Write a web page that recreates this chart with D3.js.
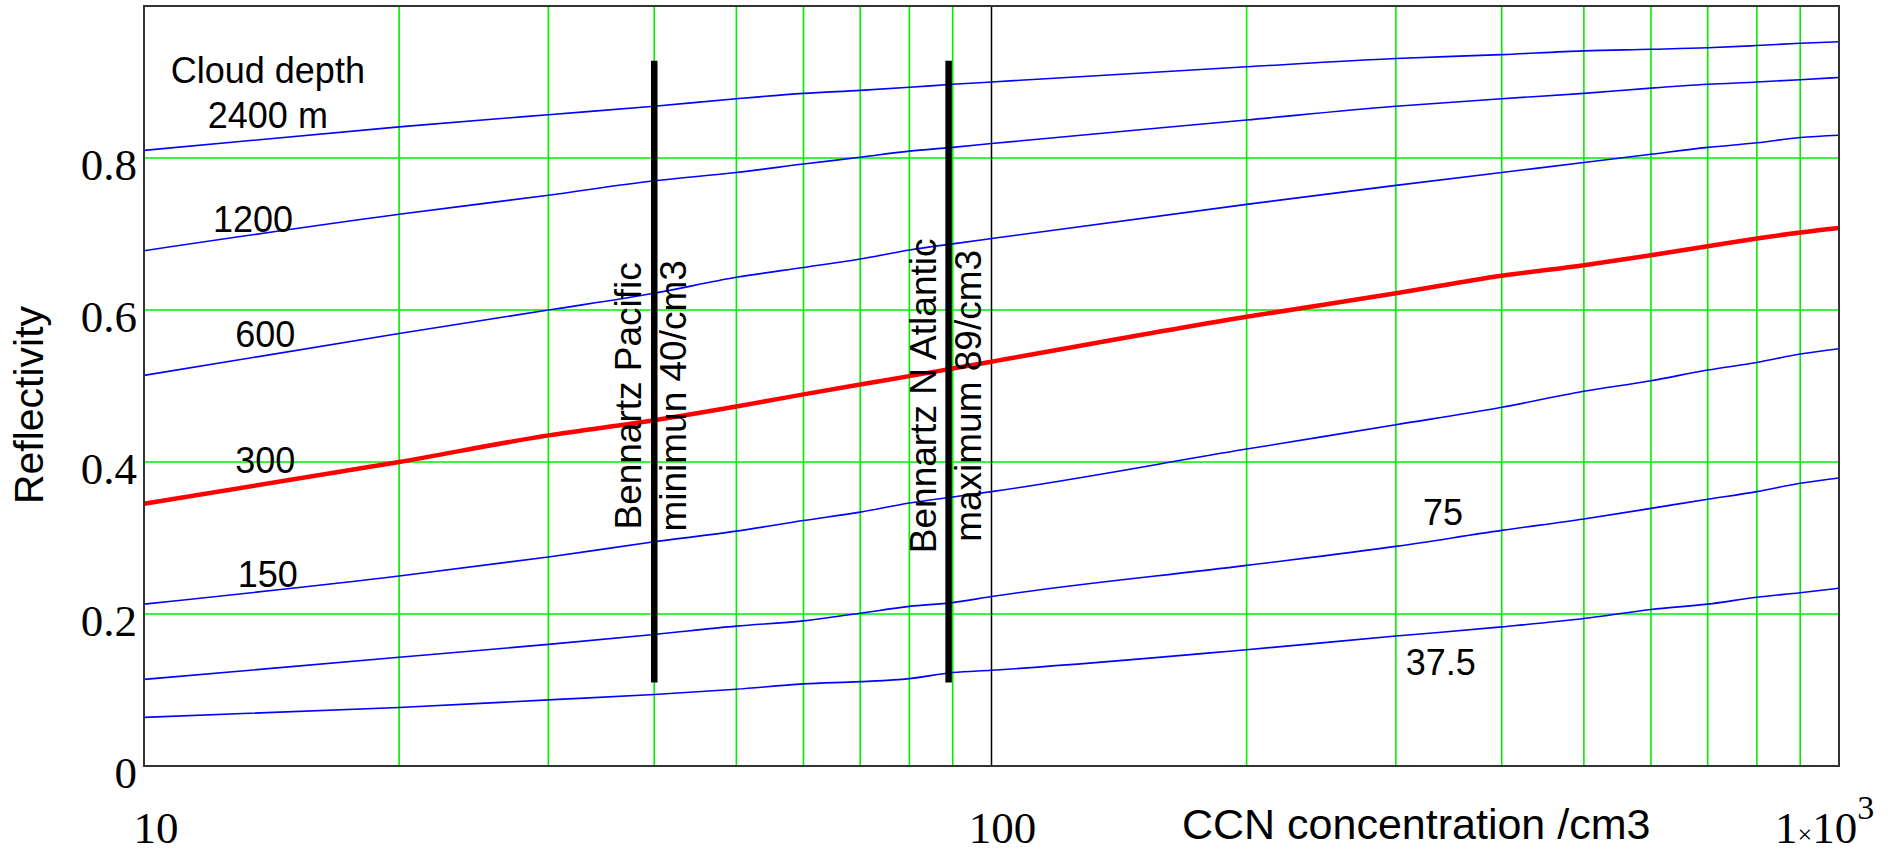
<!DOCTYPE html>
<html>
<head>
<meta charset="utf-8">
<script src="https://cdn.jsdelivr.net/npm/d3@7"></script>
<style>
  body { margin: 0; background: #fff; }
  svg { display: block; }
  .sans { font-family: "Liberation Sans", Arial, sans-serif; }
  .serif { font-family: "Liberation Serif", "Times New Roman", serif; }
</style>
</head>
<body>
<div id="chart"></div>
<script>
// CCN concentration (/cm3) where curves were read
const ccn = [10, 20, 30, 40, 50, 60, 70, 80, 90, 100, 200, 300, 400, 500, 600, 700, 800, 900, 1000];

// reflectivity per cloud depth
const depth2400 = [0.810, 0.841, 0.857, 0.868, 0.878, 0.885, 0.889, 0.893, 0.897, 0.900, 0.920, 0.931, 0.936, 0.941, 0.943, 0.945, 0.948, 0.951, 0.953];
const depth1200 = [0.678, 0.726, 0.751, 0.770, 0.781, 0.792, 0.801, 0.809, 0.814, 0.819, 0.850, 0.868, 0.878, 0.885, 0.892, 0.897, 0.900, 0.903, 0.906];
const depth600  = [0.514, 0.569, 0.600, 0.622, 0.643, 0.656, 0.667, 0.679, 0.687, 0.694, 0.739, 0.764, 0.781, 0.794, 0.805, 0.814, 0.820, 0.827, 0.830];
const depth300  = [0.345, 0.400, 0.435, 0.455, 0.473, 0.489, 0.502, 0.513, 0.523, 0.532, 0.591, 0.622, 0.645, 0.659, 0.672, 0.684, 0.694, 0.702, 0.708];
const depth150  = [0.213, 0.250, 0.275, 0.295, 0.309, 0.323, 0.334, 0.346, 0.354, 0.361, 0.417, 0.449, 0.472, 0.493, 0.507, 0.521, 0.531, 0.542, 0.549];
const depth75   = [0.114, 0.143, 0.160, 0.173, 0.184, 0.191, 0.201, 0.210, 0.215, 0.223, 0.264, 0.289, 0.310, 0.325, 0.339, 0.351, 0.361, 0.372, 0.379];
const depth37   = [0.064, 0.077, 0.087, 0.094, 0.101, 0.108, 0.111, 0.115, 0.123, 0.126, 0.153, 0.171, 0.183, 0.194, 0.206, 0.213, 0.222, 0.228, 0.234];

const seriesNames = ["2400", "1200", "600", "300", "150", "75", "37.5"];
const seriesValues = [depth2400, depth1200, depth600, depth300, depth150, depth75, depth37];

// curve labels: [text, ccn, reflectivity]
const curveLabels = [
  ["Cloud depth", 14.0, 0.899],
  ["2400 m", 14.0, 0.8395],
  ["1200", 13.45, 0.7026],
  ["600", 13.9, 0.5513],
  ["300", 13.9, 0.3855],
  ["150", 14.0, 0.2355],
  ["75", 341, 0.317],
  ["37.5", 339, 0.1197]
];

// Bennartz markers
const markerCcn = [40, 89];
const markerRange = [0.11, 0.928];
const markerLeftText = ["Bennartz Pacific", "Bennartz N Atlantic"];
const markerRightText = ["minimun 40/cm3", "maximum 89/cm3"];

const yTicks = [0, 0.2, 0.4, 0.6, 0.8];
const xGrid = [20, 30, 40, 50, 60, 70, 80, 90, 200, 300, 400, 500, 600, 700, 800, 900];

const width = 1903, height = 862;
const plotLeft = 144, plotRight = 1839, plotTop = 6, plotBottom = 766;

const svg = d3.select("#chart").append("svg")
    .attr("width", width)
    .attr("height", height);

const x = d3.scaleLog().domain([10, 1000]).range([plotLeft, plotRight]);
const y = d3.scaleLinear().domain([0, 1]).range([plotBottom, plotTop]);

// green grid
const grid = svg.append("g").attr("stroke", "#00ee00").attr("stroke-width", 1.6);
grid.selectAll("line.v").data(xGrid).enter().append("line")
    .attr("x1", d => x(d)).attr("x2", d => x(d))
    .attr("y1", plotTop).attr("y2", plotBottom);
grid.selectAll("line.h").data(yTicks.slice(1)).enter().append("line")
    .attr("x1", plotLeft).attr("x2", plotRight)
    .attr("y1", d => y(d)).attr("y2", d => y(d));

// decade line at 100
svg.append("line")
    .attr("x1", x(100)).attr("x2", x(100))
    .attr("y1", plotTop).attr("y2", plotBottom)
    .attr("stroke", "#000").attr("stroke-width", 1.5);

// curves
const line = d3.line()
    .x(d => x(d[0]))
    .y(d => y(d[1]))
    .curve(d3.curveMonotoneX);

svg.append("g").selectAll("path")
    .data(seriesValues.map((vals, i) => ({ name: seriesNames[i], pts: ccn.map((c, j) => [c, vals[j]]) })))
    .enter().append("path")
    .attr("d", d => line(d.pts))
    .attr("fill", "none")
    .attr("stroke", d => d.name === "300" ? "#ff0000" : "#0000ff")
    .attr("stroke-width", d => d.name === "300" ? 4.5 : 1.6);

// Bennartz bars
svg.append("g").selectAll("line")
    .data(markerCcn).enter().append("line")
    .attr("x1", d => x(d)).attr("x2", d => x(d))
    .attr("y1", y(markerRange[0])).attr("y2", y(markerRange[1]))
    .attr("stroke", "#000").attr("stroke-width", 6.5);

const midY = y(0.487);
markerCcn.forEach((c, i) => {
    svg.append("text").attr("class", "sans")
        .attr("transform", `translate(${x(c) - 13},${midY}) rotate(-90)`)
        .attr("text-anchor", "middle")
        .attr("font-size", 37)
        .text(markerLeftText[i]);
    svg.append("text").attr("class", "sans")
        .attr("transform", `translate(${x(c) + 32},${midY}) rotate(-90)`)
        .attr("text-anchor", "middle")
        .attr("font-size", 37)
        .text(markerRightText[i]);
});

// frame
svg.append("rect")
    .attr("x", plotLeft).attr("y", plotTop)
    .attr("width", plotRight - plotLeft).attr("height", plotBottom - plotTop)
    .attr("fill", "none").attr("stroke", "#333").attr("stroke-width", 2);

// curve labels
svg.append("g").selectAll("text")
    .data(curveLabels).enter().append("text")
    .attr("class", "sans")
    .attr("x", d => x(d[1])).attr("y", d => y(d[2]))
    .attr("text-anchor", "middle")
    .attr("font-size", 36)
    .text(d => d[0]);

// y tick labels
svg.append("g").selectAll("text")
    .data(yTicks).enter().append("text")
    .attr("class", "serif")
    .attr("x", plotLeft - 7).attr("y", d => y(d) + 22)
    .attr("text-anchor", "end")
    .attr("font-size", 45)
    .text(d => d === 0 ? "0" : d3.format(".1f")(d));

// x tick labels
const xLabelY = 843;
svg.append("text").attr("class", "serif")
    .attr("x", x(10) + 12).attr("y", xLabelY)
    .attr("text-anchor", "middle").attr("font-size", 45)
    .text("10");
svg.append("text").attr("class", "serif")
    .attr("x", x(100) + 11).attr("y", xLabelY)
    .attr("text-anchor", "middle").attr("font-size", 45)
    .text("100");
const big = svg.append("text").attr("class", "serif")
    .attr("x", x(1000) - 64).attr("y", xLabelY)
    .attr("font-size", 45);
big.append("tspan").text("1");
big.append("tspan").attr("font-size", 26).text("\u00d7");
big.append("tspan").text("10");
big.append("tspan").attr("font-size", 34).attr("dy", -24).text("3");

// axis titles
svg.append("text").attr("class", "sans")
    .attr("x", 1182).attr("y", 839)
    .attr("font-size", 43)
    .text("CCN concentration /cm3");
svg.append("text").attr("class", "sans")
    .attr("transform", `translate(43,${y(0.475)}) rotate(-90)`)
    .attr("text-anchor", "middle")
    .attr("font-size", 41)
    .text("Reflectivity");
</script>
</body>
</html>
